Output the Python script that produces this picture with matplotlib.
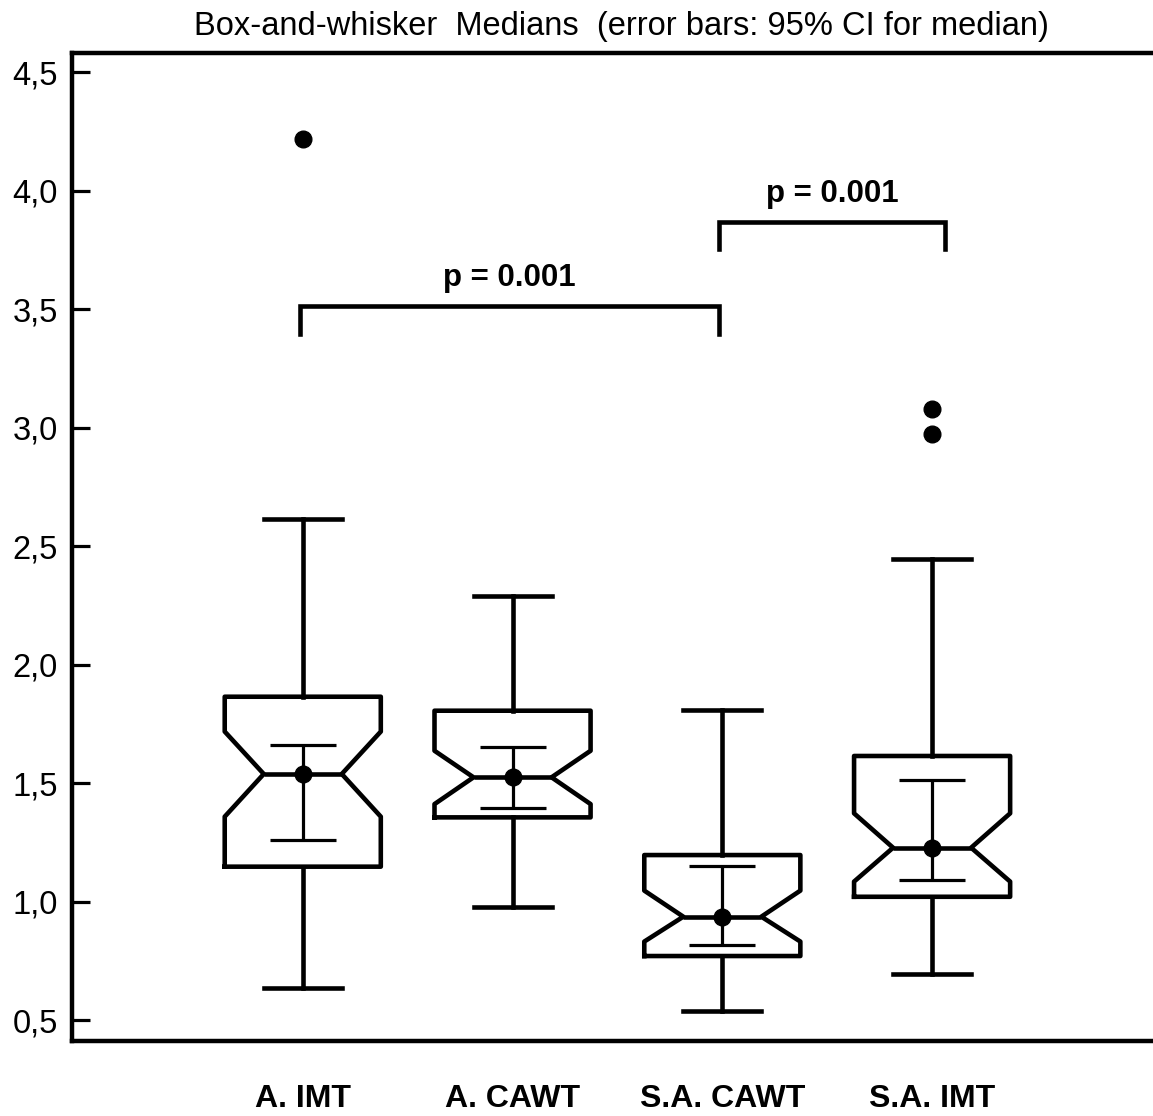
## notched box-and-whisker medians with 95% CI error bars

import matplotlib
matplotlib.use("Agg")
import matplotlib.pyplot as plt
import numpy as np

plt.rcParams['font.family'] = ['Liberation Sans', 'DejaVu Sans']

labels = ["A. IMT", "A. CAWT", "S.A. CAWT", "S.A. IMT"]
med = [1.54, 1.526, 0.938, 1.229]
q1 = [1.149, 1.357, 0.772, 1.022]
q3 = [1.866, 1.807, 1.198, 1.616]
notch_lo = [1.360, 1.413, 0.833, 1.086]
notch_hi = [1.719, 1.638, 1.048, 1.374]
whis_lo = [0.636, 0.978, 0.540, 0.696]
whis_hi = [2.616, 2.291, 1.809, 2.447]
fliers = [[4.22], [], [], [3.08, 2.975]]
ci_lo = [1.262, 1.395, 0.817, 1.093]
ci_hi = [1.662, 1.655, 1.152, 1.515]

# significance brackets: (x left, x right, top, tick bottom, text)
brackets = [(0.986, 2.984, 3.515, 3.398, "p = 0.001"),
            (2.984, 4.063, 3.870, 3.755, "p = 0.001")]

pos = np.arange(1, len(labels) + 1)

fig = plt.figure(figsize=(11.53, 11.16), dpi=100)
ax = fig.add_axes([72/1153, 75/1116, 1 - 72/1153, (1041 - 52.5)/1116])

stats = []
for i in range(len(labels)):
    stats.append(dict(med=med[i], q1=q1[i], q3=q3[i], cilo=notch_lo[i], cihi=notch_hi[i],
                      whislo=whis_lo[i], whishi=whis_hi[i], fliers=fliers[i]))

lw = 3.3
ax.bxp(stats, positions=pos, widths=0.744, shownotches=True,
       boxprops=dict(color='black', linewidth=lw),
       whiskerprops=dict(color='black', linewidth=lw),
       capprops=dict(color='black', linewidth=lw),
       medianprops=dict(color='black', linewidth=lw),
       flierprops=dict(marker='o', markerfacecolor='black', markeredgecolor='black', markersize=12))

med_arr = np.array(med)
yerr = np.vstack([med_arr - np.array(ci_lo), np.array(ci_hi) - med_arr])
ax.errorbar(pos, med_arr, yerr=yerr, fmt='o', color='black', markersize=12,
            elinewidth=2.3, capsize=24, capthick=2.3)

for x0, x1, top, bot, txt in brackets:
    ax.plot([x0, x0, x1, x1], [bot, top, top, bot], color='black', linewidth=lw,
            solid_joinstyle='miter')
    ax.text((x0 + x1) / 2, top + 0.085, txt, ha='center', va='baseline',
            fontsize=22.5, fontweight='bold')

ax.set_xlim(-0.10, 5.053)
ax.set_ylim(0.4135, 4.584)
ax.set_yticks([0.5, 1.0, 1.5, 2.0, 2.5, 3.0, 3.5, 4.0, 4.5])
ax.set_yticklabels(["0,5", "1,0", "1,5", "2,0", "2,5", "3,0", "3,5", "4,0", "4,5"])
ax.set_xticks(pos)
ax.set_xticklabels(labels, fontweight='bold')
ax.tick_params(axis='y', direction='in', length=13, width=2.3, labelsize=23.5, pad=10)
ax.tick_params(axis='x', length=0, labelsize=23, pad=31)

ax.spines['right'].set_visible(False)
for s in ['left', 'top', 'bottom']:
    ax.spines[s].set_linewidth(3.2)

fig.text(621/1153, 1 - 27/1116, "Box-and-whisker  Medians  (error bars: 95% CI for median)",
         ha='center', va='center', fontsize=23.5)

fig.savefig("out.png", dpi=100)
